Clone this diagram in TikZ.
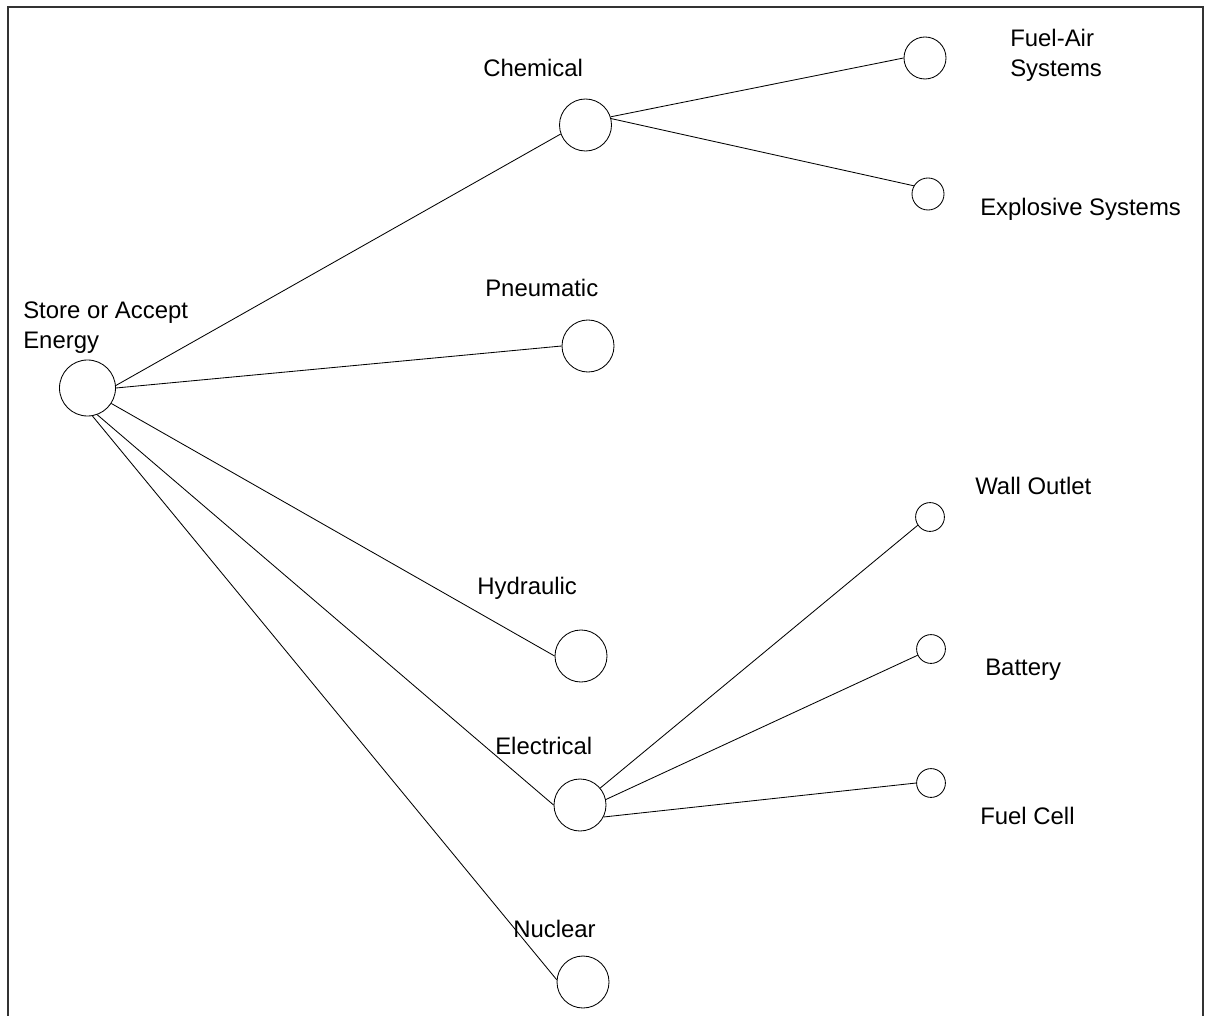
\documentclass[tikz,border=0pt]{standalone}
\usepackage{fontspec}
\setmainfont{Liberation Sans}
\usepackage{tikz}
\usetikzlibrary{positioning}
\tikzset{
	dot/.style={draw, circle, inner sep=0, line width=0.6pt, minimum size=#1},
	lbl/.style={anchor=base west, inner sep=0, align=left, font=\fontsize{17}{21.5}\selectfont},
	link/.style={line width=0.6pt}
}

\begin{document}
\begin{tikzpicture}[x=0.025cm, y=-0.025cm]
				\useasboundingbox (0,0) rectangle (1207,1016);
				\draw[line width=1.4pt, black!80] (8,1016) -- (8,7) -- (1203,7) -- (1203,1016);
				
				% circles
				\node[dot=1.4cm] (root) at (87.5,388) {};
				\node[dot=1.3cm] (chem) at (585.5,125) {};
				\node[dot=1.3cm] (pneu) at (588,346) {};
				\node[dot=1.3cm] (hyd) at (581,656) {};
				\node[dot=1.3cm] (elec) at (580,805) {};
				\node[dot=1.3cm] (nuc) at (583,982) {};
				\node[dot=1.05cm] (fuelair) at (925,58) {};
				\node[dot=0.8cm] (expl) at (928,194) {};
				\node[dot=0.72cm] (wall) at (930,517) {};
				\node[dot=0.72cm] (batt) at (931,649) {};
				\node[dot=0.72cm] (fcell) at (931,783) {};
				
				% labels (base = last line)
				\node[lbl] (rootlbl) at (23,349) {Store or Accept\\Energy};
				\node[lbl] (chemlbl) at (483,77) {Chemical};
				\node[lbl] (pneulbl) at (485,297) {Pneumatic};
				\node[lbl] (hydlbl) at (477,594) {Hydraulic};
				\node[lbl] (eleclbl) at (495,754) {Electrical};
				\node[lbl] (nuclbl) at (513,937) {Nuclear};
				\node[lbl] (fuelairlbl) at (1010,77) {Fuel-Air\\Systems};
				\node[lbl] (expllbl) at (980,216) {Explosive Systems};
				\node[lbl] (walllbl) at (975,494) {Wall Outlet};
				\node[lbl] (battlbl) at (985,675) {Battery};
				\node[lbl] (fcelllbl) at (980,824) {Fuel Cell};
				
				% connectors
				\draw[link] (root.5) -- (chem.200);
				\draw[link] (root.east) -- (pneu.west);
				\draw[link] (root.-33) -- (hyd.west);
				\draw[link] (root.-70) -- (elec.west);
				\draw[link] (root.-80) -- (nuc.175);
				\draw[link] (chem.18) -- (fuelair.west);
				\draw[link] (chem.14) -- (expl.150);
				\draw[link] (elec.40) -- (wall.214);
				\draw[link] (elec.12) -- (batt.205);
				\draw[link] (elec.-27) -- (fcell.west);
\end{tikzpicture}
\end{document}
